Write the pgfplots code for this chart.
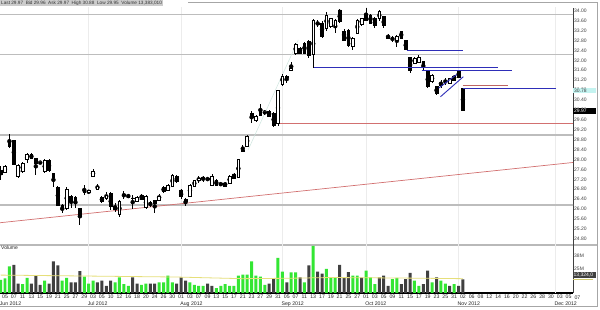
\documentclass[border=0pt]{standalone}
\usepackage{fontspec}
\setmainfont{Liberation Sans}
\usepackage{pgfplots}
\usepackage{pgfplotstable}
\pgfplotsset{compat=1.18}

\definecolor{gridc}{HTML}{ECECEC}
\definecolor{hline}{HTML}{BDBDBD}
\definecolor{navy}{HTML}{2E2EB8}
\definecolor{redl}{HTML}{D27070}
\definecolor{volg}{HTML}{33E633}
\definecolor{vold}{HTML}{404040}
\definecolor{avgy}{HTML}{E6DF7A}
\definecolor{labc}{HTML}{404040}
\definecolor{cyanbox}{HTML}{C4F3F0}
\definecolor{faint}{HTML}{CFE6DF}

\pgfplotstableread{
i o h l c
0 27.57 27.72 27.17 27.40
1 27.50 27.78 27.45 27.72
2 28.76 29.02 28.45 28.52
3 28.76 28.80 27.78 27.81
4 27.31 27.80 27.25 27.78
5 27.51 27.90 27.45 27.85
6 28.01 28.28 27.85 28.21
7 28.21 28.25 28.00 28.05
8 28.05 28.08 27.37 27.85
9 27.88 27.95 27.80 27.90
10 27.51 28.00 27.45 27.95
11 27.95 28.00 27.50 27.55
12 27.44 27.46 26.90 27.28
13 26.88 26.95 26.15 26.17
14 26.17 26.20 25.83 26.00
15 26.03 26.90 25.98 26.80
16 26.50 26.55 26.03 26.30
17 26.48 26.52 26.03 26.24
18 26.03 26.06 25.36 25.69
19 26.70 26.97 26.57 26.68
20 26.66 26.78 26.62 26.74
21 27.31 27.60 27.28 27.51
22 26.80 27.00 26.75 26.90
23 26.48 26.52 26.25 26.30
24 26.43 26.68 26.35 26.57
25 26.64 26.68 25.95 26.13
26 26.10 26.25 25.90 26.00
27 25.80 26.35 25.70 26.30
28 26.55 26.72 26.40 26.58
29 26.57 26.60 26.45 26.48
30 26.45 26.57 25.99 26.43
31 26.30 26.52 26.28 26.48
32 26.57 26.62 26.35 26.40
33 26.07 26.55 26.00 26.50
34 26.27 26.34 26.07 26.25
35 26.34 26.37 25.85 26.24
36 26.37 26.62 26.33 26.53
37 26.88 26.92 26.66 26.70
38 26.77 27.02 26.74 26.97
39 26.90 27.40 26.88 27.37
40 27.33 27.38 27.05 27.10
41 26.77 26.80 26.40 26.53
42 26.40 26.43 26.13 26.30
43 26.53 27.00 26.50 26.97
44 26.93 27.18 26.90 27.15
45 27.15 27.35 27.05 27.25
46 27.22 27.35 27.10 27.26
47 27.20 27.30 27.12 27.22
48 26.97 27.40 26.92 27.31
49 27.17 27.20 26.92 26.97
50 27.04 27.08 26.93 26.98
51 27.05 27.10 26.90 26.93
52 27.04 27.38 27.00 27.33
53 27.42 27.46 27.20 27.24
54 27.28 28.02 27.25 27.99
55 28.33 28.58 28.30 28.36
56 28.54 29.00 28.50 28.95
57 29.86 29.95 29.46 29.70
58 29.56 29.78 29.50 29.73
59 29.93 30.24 29.75 29.80
60 29.90 30.00 29.80 29.92
61 29.93 29.98 29.70 29.75
62 29.86 29.90 29.32 29.39
63 29.46 30.82 29.35 30.80
64 31.02 31.45 30.98 31.37
65 31.32 31.41 31.08 31.35
66 31.60 31.95 31.55 31.66
67 32.28 32.71 32.21 32.64
68 32.48 32.55 32.25 32.28
69 32.68 32.75 32.25 32.30
70 32.75 32.80 32.10 32.21
71 32.22 33.65 31.70 33.62
72 33.50 33.62 33.35 33.45
73 33.49 33.60 32.90 32.95
74 33.29 33.96 33.20 33.83
75 33.35 33.72 33.30 33.69
76 33.35 33.65 33.10 33.62
77 34.03 34.05 33.50 33.56
78 33.15 33.25 32.80 32.82
79 33.22 33.25 32.55 32.62
80 32.55 32.92 32.42 32.89
81 33.09 33.65 33.05 33.62
82 33.45 33.72 33.40 33.69
83 33.83 34.10 33.58 33.62
84 33.83 33.88 33.45 33.49
85 33.69 33.75 33.30 33.42
86 33.69 34.03 33.60 33.96
87 33.76 33.80 33.29 33.42
88 32.95 33.05 32.85 32.90
89 32.90 32.98 32.75 32.88
90 32.82 33.02 32.55 32.95
91 33.15 33.20 32.85 32.89
92 32.79 32.82 32.40 32.44
93 32.12 32.15 31.48 31.61
94 31.88 32.12 31.85 32.08
95 31.90 32.20 31.88 32.12
96 31.94 31.98 31.56 31.74
97 31.54 31.56 30.90 30.94
98 31.14 31.45 31.10 31.41
99 30.94 30.96 30.62 30.67
100 30.98 31.21 30.90 31.02
101 31.10 31.27 31.02 31.14
102 31.07 31.30 31.04 31.27
103 31.37 31.42 31.18 31.21
104 31.54 31.58 31.28 31.31
105 30.87 30.88 29.95 29.97
}\pricedata

\pgfplotstableread{
i v
0 13.5
1 15
2 27.5
5 9.2
6 15.5
10 12.7
14 12.7
15 15.5
19 16.9
20 9.8
21 12.7
26 10.9
27 16.2
28 9.2
29 7.4
32 8.4
33 9.8
36 10.9
37 10.9
38 18
39 10.9
43 10.9
44 8.4
45 7.4
46 7.4
49 5.0
50 7.4
51 9.2
52 7.4
53 7.4
54 18
55 19
56 19
57 32.7
58 18
59 16.9
60 8.4
63 36.2
64 22.2
66 21.4
67 21.4
69 10.9
71 48.6
74 25
75 16
76 16
80 18
81 18
83 23
84 16.2
85 9.2
89 14.4
90 15.5
94 12.7
95 7.4
98 10.9
100 12.7
101 9.8
103 9.2
}\volgreen

\pgfplotstableread{
i v
3 29
4 9.8
7 9.8
8 18
9 8.4
11 9.8
12 32.7
13 28.5
16 10.9
17 10.9
18 22.5
22 10.9
23 12.7
24 7.4
25 12.7
30 16.2
31 9.8
34 9.8
35 9.8
40 9.8
41 16.2
42 12.7
47 9.8
48 7.4
61 9.8
62 14.4
65 10.9
68 16.2
70 28.5
72 22
73 20
77 29
78 16
79 21.5
82 16
86 16.2
87 18
88 7.4
91 9.2
92 14.4
93 20.8
96 9.2
97 23.2
99 16.2
102 7.4
104 7.4
105 14
}\voldark

\tikzset{smallfont/.style={font=\fontsize{5}{6}\selectfont}}
\pgfplotsset{
  chartbase/.style={scale only axis, width=573pt, xmin=-0.136, xmax=130.0, anchor=south west},
  pricebase/.style={chartbase, at={(0pt,65pt)}, height=237pt, ymin=24.5524, ymax=34.1089},
}

\begin{document}
\begin{tikzpicture}
\useasboundingbox (0pt,0pt) rectangle (600pt,310pt);
\fill[white] (0pt,0pt) rectangle (600pt,310pt);

% frame
\draw[gray!70, line width=0.8pt] (188pt,308pt) -- (597pt,308pt) -- (597pt,4pt) -- (0pt,4pt);
\draw[gray!55, line width=1.6pt] (0pt,65pt) -- (597pt,65pt);

% top info bar
\node[anchor=north west, fill=gray!40, text=black!80, inner xsep=1pt, inner ysep=0.7pt,
  font=\fontsize{4.7}{5.2}\selectfont] at (0pt,310pt)
  {Last 29.97 \ Bid 29.96 \ Ask 29.97 \ High 30.88 \ Low 29.95 \ Volume 13,383,010};

% ---------- price background ----------
\begin{axis}[pricebase,
  hide x axis, axis y line*=right,
  y axis line style={draw=labc, line width=0.8pt, -},
  major tick length=0pt,
  ytick={24.8,25.2,25.6,26.0,26.4,26.8,27.2,27.6,28.0,28.4,28.8,29.2,29.6,30.0,30.4,30.8,31.2,31.6,32.0,32.4,32.8,33.2,33.6,34.0},
  yticklabels={24.80,25.20,25.60,26.00,26.40,26.80,27.20,27.60,28.00,28.40,28.80,29.20,29.60,30.00,30.40,30.80,31.20,31.60,32.00,32.40,32.80,33.20,33.60,34.00},
  yticklabel style={smallfont, text=labc, inner sep=1pt},
]
\addplot[gridc, line width=0.6pt, forget plot] coordinates {(20,24) (20,35)};
\addplot[gridc, line width=0.6pt, forget plot] coordinates {(41,24) (41,35)};
\addplot[gridc, line width=0.6pt, forget plot] coordinates {(64,24) (64,35)};
\addplot[gridc, line width=0.6pt, forget plot] coordinates {(83,24) (83,35)};
\addplot[gridc, line width=0.6pt, forget plot] coordinates {(104,24) (104,35)};
\addplot[gridc, line width=0.6pt, forget plot] coordinates {(126,24) (126,35)};
\addplot[hline, line width=1.4pt, forget plot] coordinates {(-1,33.85) (131,33.85)};
\addplot[hline, line width=1.4pt, forget plot] coordinates {(-1,32.23) (131,32.23)};
\addplot[hline, line width=1.4pt, forget plot] coordinates {(-1,28.99) (131,28.99)};
\addplot[hline, line width=1.4pt, forget plot] coordinates {(-1,26.17) (131,26.17)};
\addplot[redl, line width=0.7pt, forget plot] coordinates {(-0.136,25.45) (130,27.88)};
\addplot[redl, line width=0.7pt, forget plot] coordinates {(62.8,29.47) (130,29.47)};
\addplot[faint, line width=0.5pt, forget plot] coordinates {(56.2,28.38) (67.6,32.82)};
% wicks
\addplot[only marks, mark=none, forget plot,
  error bars/.cd, y dir=both, y explicit, error mark=none,
  error bar style={draw=black, line width=0.8pt}]
  table[x=i, y expr={(\thisrow{h}+\thisrow{l})/2}, y error expr={(\thisrow{h}-\thisrow{l})/2}] \pricedata;
\end{axis}

% ---------- candle bodies ----------
\begin{axis}[pricebase, hide axis, ybar stacked, bar width=0.62]
\addplot[draw=none, fill=none] table[x=i, y expr={min(\thisrow{o},\thisrow{c})}] \pricedata;
\addplot[draw=black, fill=white, line width=0.7pt] table[x=i, y expr={max(\thisrow{c}-\thisrow{o},0)}] \pricedata;
\addplot[draw=black, fill=black, line width=0.7pt] table[x=i, y expr={max(\thisrow{o}-\thisrow{c},0)}] \pricedata;
\end{axis}

% ---------- overlays ----------
\begin{axis}[pricebase, hide axis, clip=false]
\addplot[navy, line width=1.0pt] coordinates {(92.2,32.39) (105.0,32.39)};
\addplot[navy, line width=1.0pt] coordinates {(71.2,31.70) (113.0,31.70)};
\addplot[navy, line width=1.0pt] coordinates {(95.6,31.57) (116.1,31.57)};
\addplot[redl!90!black, line width=1.0pt] coordinates {(105.0,31.00) (115.2,31.00)};
\addplot[navy, line width=1.0pt] coordinates {(105.0,30.86) (126.2,30.86)};
\addplot[navy, line width=0.9pt] coordinates {(99.5,30.88) (103.6,31.43)};
\addplot[navy, line width=0.9pt] coordinates {(99.9,30.53) (105.1,31.34)};
\node[anchor=west, fill=cyanbox, text=labc, smallfont, inner sep=0pt, minimum height=5.6pt,
  text width=22.5pt, align=left] at (axis cs:130,30.78) {\hspace*{1pt}30.78};
\node[anchor=west, fill=black, text=white, smallfont, inner sep=0pt, minimum height=6.2pt,
  text width=22.5pt, align=left] at (axis cs:130,29.97) {\hspace*{1pt}29.97};
\end{axis}

% ---------- volume ----------
\begin{axis}[chartbase, at={(0pt,17pt)}, height=48pt, ymin=0, ymax=49.6, clip=false,
  axis y line*=right, axis x line*=bottom,
  x axis line style={black, line width=2pt, -},
  y axis line style={labc, line width=0.8pt, -},
  major tick length=0pt,
  ytick={25,38}, yticklabels={25M,38M},
  yticklabel style={smallfont, text=labc, inner sep=1pt},
  xtick={1,3,...,129},
  xticklabels={05,07,11,13,15,19,21,25,27,29,03,05,10,12,16,18,20,24,26,30,01,03,07,09,13,15,17,21,23,27,29,31,05,07,11,13,17,19,21,25,27,01,03,05,09,11,15,17,19,23,25,31,02,06,08,12,14,16,20,22,26,28,30,03,05},
  xticklabel style={font=\fontsize{5.2}{6}\selectfont, text=black!85, inner sep=0.5pt, yshift=-1.2pt},
  extra x ticks={0,20,41,64,83,104,126},
  extra x tick labels={Jun 2012,Jul 2012,Aug 2012,Sep 2012,Oct 2012,Nov 2012,Dec 2012},
  extra x tick style={xticklabel style={anchor=north west, yshift=-7pt, xshift=-1.5pt}},
]
\addplot[gridc, line width=0.6pt, forget plot] coordinates {(20,0) (20,49.6)};
\addplot[gridc, line width=0.6pt, forget plot] coordinates {(41,0) (41,49.6)};
\addplot[gridc, line width=0.6pt, forget plot] coordinates {(64,0) (64,49.6)};
\addplot[gridc, line width=0.6pt, forget plot] coordinates {(83,0) (83,49.6)};
\addplot[gridc, line width=0.6pt, forget plot] coordinates {(104,0) (104,49.6)};
\addplot[gridc, line width=0.6pt, forget plot] coordinates {(126,0) (126,49.6)};
\addplot[ybar, bar width=0.68, bar shift=0pt, fill=volg, draw=none] table[x=i, y=v] \volgreen;
\addplot[ybar, bar width=0.68, bar shift=0pt, fill=vold, draw=none] table[x=i, y=v] \voldark;
\addplot[avgy, line width=0.8pt] coordinates {(0,18.5) (20,17.5) (40,16.5) (55,14.8) (65,15.2) (75,16.0) (90,15.5) (105,14.8)};
\addplot[avgy!90!black, line width=1pt] coordinates {(130,13.9) (134.6,13.9)};
\node[anchor=north west, smallfont, text=black!85, inner sep=1pt] at (rel axis cs:0,1) {Volume};
\node[anchor=west, fill=vold, text=white, smallfont, inner sep=0pt, minimum height=5.6pt,
  text width=22.5pt, align=left] at (axis cs:130,18.6) {\hspace*{0.5pt}13,324,0};
\node[anchor=north, font=\fontsize{5.2}{6}\selectfont, text=black!85, inner sep=0.5pt, yshift=-2.2pt] at (axis cs:131,0) {07};
\end{axis}
\end{tikzpicture}
\end{document}
